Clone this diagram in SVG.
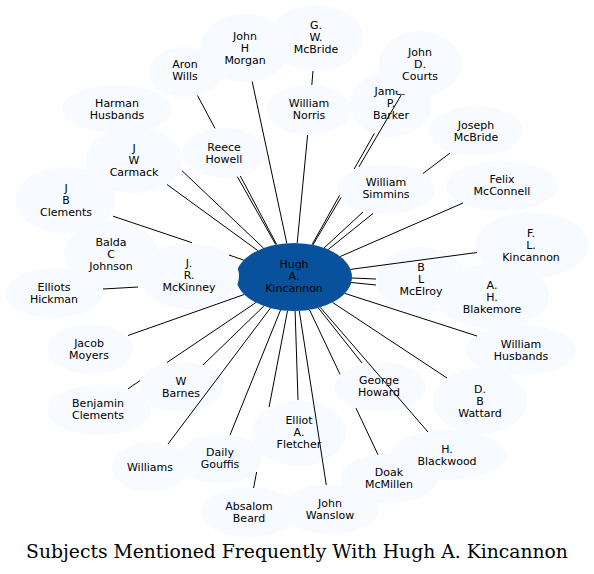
<svg xmlns="http://www.w3.org/2000/svg" width="594" height="574" viewBox="0 0 594 574">
<style>
.n ellipse{fill:#f7fbff;stroke:none}
.hub ellipse{fill:#08519c;stroke:none}
text{font-family:"DejaVu Sans","Liberation Sans",sans-serif;font-size:11px;fill:#000;text-anchor:middle}
.title{font-family:"DejaVu Serif","Liberation Serif",serif;font-size:18.75px}
#edges path{stroke:#000;stroke-width:1;fill:none}
</style>
<rect width="594" height="574" fill="#fff"/>
<g id="nodes">
<g id="hub" class="hub"><ellipse cx="294" cy="277" rx="58" ry="34"/><text x="294" y="268">Hugh</text><text x="294" y="280">A.</text><text x="294" y="292">Kincannon</text></g>
<g id="n-gwmcbride" class="n"><ellipse cx="316" cy="38" rx="47" ry="33"/><text x="316" y="29">G.</text><text x="316" y="41">W.</text><text x="316" y="53">McBride</text></g>
<g id="n-jhmorgan" class="n"><ellipse cx="245" cy="48" rx="45" ry="34"/><text x="245" y="40">John</text><text x="245" y="52">H</text><text x="245" y="64">Morgan</text></g>
<g id="n-aronwills" class="n"><ellipse cx="185" cy="72" rx="37" ry="25"/><text x="185" y="68">Aron</text><text x="185" y="80">Wills</text></g>
<g id="n-harmanhusbands" class="n"><ellipse cx="117" cy="109" rx="55" ry="24"/><text x="117" y="107">Harman</text><text x="117" y="119">Husbands</text></g>
<g id="n-jwcarmack" class="n"><ellipse cx="134" cy="160" rx="48" ry="33"/><text x="134" y="152">J</text><text x="134" y="164">W</text><text x="134" y="176">Carmack</text></g>
<g id="n-reecehowell" class="n"><ellipse cx="224" cy="153" rx="42" ry="25"/><text x="224" y="151">Reece</text><text x="224" y="163">Howell</text></g>
<g id="n-jbclements" class="n"><ellipse cx="65" cy="200" rx="50" ry="33"/><text x="66" y="192">J</text><text x="66" y="204">B</text><text x="66" y="216">Clements</text></g>
<g id="n-baldacjohnson" class="n"><ellipse cx="111" cy="254" rx="47" ry="33"/><text x="111" y="246">Balda</text><text x="111" y="258">C</text><text x="111" y="270">Johnson</text></g>
<g id="n-elliotshickman" class="n"><ellipse cx="54" cy="293" rx="49" ry="25"/><text x="54" y="291">Elliots</text><text x="54" y="303">Hickman</text></g>
<g id="n-jrmckinney" class="n"><ellipse cx="189" cy="276" rx="50" ry="33"/><text x="189" y="267">J.</text><text x="189" y="279">R.</text><text x="189" y="291">McKinney</text></g>
<g id="n-jacobmoyers" class="n"><ellipse cx="90" cy="349" rx="43" ry="25"/><text x="89" y="347">Jacob</text><text x="89" y="359">Moyers</text></g>
<g id="n-wbarnes" class="n"><ellipse cx="181" cy="387" rx="42" ry="25"/><text x="181" y="385">W</text><text x="181" y="397">Barnes</text></g>
<g id="n-benjaminclements" class="n"><ellipse cx="99" cy="410" rx="52" ry="25"/><text x="98" y="407">Benjamin</text><text x="98" y="419">Clements</text></g>
<g id="n-williams" class="n"><ellipse cx="150" cy="467" rx="38" ry="25"/><text x="150" y="471">Williams</text></g>
<g id="n-dailygouffis" class="n"><ellipse cx="220" cy="459" rx="42" ry="25"/><text x="220" y="456">Daily</text><text x="220" y="468">Gouffis</text></g>
<g id="n-absalombeard" class="n"><ellipse cx="249" cy="512" rx="48" ry="25"/><text x="249" y="510">Absalom</text><text x="249" y="522">Beard</text></g>
<g id="n-elliotafletcher" class="n"><ellipse cx="299" cy="433" rx="47" ry="33"/><text x="299" y="424">Elliot</text><text x="299" y="436">A.</text><text x="299" y="448">Fletcher</text></g>
<g id="n-johnwanslow" class="n"><ellipse cx="330" cy="509" rx="49" ry="25"/><text x="330" y="507">John</text><text x="330" y="519">Wanslow</text></g>
<g id="n-doakmcmillen" class="n"><ellipse cx="389" cy="478" rx="49" ry="25"/><text x="389" y="476">Doak</text><text x="389" y="488">McMillen</text></g>
<g id="n-hblackwood" class="n"><ellipse cx="448" cy="455" rx="58" ry="25"/><text x="447" y="453">H.</text><text x="447" y="465">Blackwood</text></g>
<g id="n-georgehoward" class="n"><ellipse cx="380" cy="387" rx="46" ry="25"/><text x="379" y="384">George</text><text x="379" y="396">Howard</text></g>
<g id="n-dbwattard" class="n"><ellipse cx="480" cy="401" rx="47" ry="33"/><text x="480" y="393">D.</text><text x="480" y="405">B</text><text x="480" y="417">Wattard</text></g>
<g id="n-williamhusbands" class="n"><ellipse cx="521" cy="350" rx="55" ry="25"/><text x="521" y="348">William</text><text x="521" y="360">Husbands</text></g>
<g id="n-ahblakemore" class="n"><ellipse cx="493" cy="296" rx="56" ry="33"/><text x="492" y="289">A.</text><text x="492" y="301">H.</text><text x="492" y="313">Blakemore</text></g>
<g id="n-flkincannon" class="n"><ellipse cx="532" cy="245" rx="57" ry="33"/><text x="531" y="237">F.</text><text x="531" y="249">L.</text><text x="531" y="261">Kincannon</text></g>
<g id="n-blmcelroy" class="n"><ellipse cx="421" cy="280" rx="45" ry="33"/><text x="421" y="271">B</text><text x="421" y="283">L</text><text x="421" y="295">McElroy</text></g>
<g id="n-felixmcconnell" class="n"><ellipse cx="502" cy="186" rx="56" ry="25"/><text x="502" y="183">Felix</text><text x="502" y="195">McConnell</text></g>
<g id="n-williamsimmins" class="n"><ellipse cx="386" cy="189" rx="49" ry="25"/><text x="386" y="186">William</text><text x="386" y="198">Simmins</text></g>
<g id="n-josephmcbride" class="n"><ellipse cx="476" cy="131" rx="47" ry="25"/><text x="476" y="129">Joseph</text><text x="476" y="141">McBride</text></g>
<g id="n-jamespbarker" class="n"><ellipse cx="391" cy="104" rx="41" ry="33"/><text x="391" y="95">James</text><text x="391" y="107">P.</text><text x="391" y="119">Barker</text></g>
<g id="n-johndcourts" class="n"><ellipse cx="420" cy="64" rx="41" ry="33"/><text x="420" y="56">John</text><text x="420" y="68">D.</text><text x="420" y="80">Courts</text></g>
<g id="n-williamnorris" class="n"><ellipse cx="309" cy="110" rx="42" ry="25"/><text x="309" y="107">William</text><text x="309" y="119">Norris</text></g>
</g>
<g id="edges">
<path d="M197.5,95.5 L215,128.4 M240.3,176 L276.7,244.5"/>
<path d="M237.4,176.7 L275.8,244.7"/>
<path d="M252.2,81.6 L286.8,243.3"/>
<path d="M313,71 L311.8,85"/>
<path d="M307.6,135 L297.2,243"/>
<path d="M401.5,94.5 L358.8,167 M341,197.5 L312.9,244.9"/>
<path d="M374.3,133.5 L354.2,169 M339.5,195.5 L312,244.7"/>
<path d="M363,212 L324,248"/>
<path d="M450,153 L423,173.5 M373,213.5 L328.2,249.5"/>
<path d="M463,203 L340.3,256.5"/>
<path d="M477,252.5 L350.5,269.4"/>
<path d="M352,278 L376,279"/>
<path d="M351.3,282.5 L376,285"/>
<path d="M344.8,293.4 L477,336"/>
<path d="M332.5,302.4 L447,378"/>
<path d="M320.2,307.3 L428,432"/>
<path d="M318.3,307.9 L362,363"/>
<path d="M309.5,309.8 L340,374.3 M356,408.2 L378,454.7"/>
<path d="M299.3,310.9 L326.3,485"/>
<path d="M295.1,311 L298,400"/>
<path d="M287.5,310.8 L269.1,407 M256.6,472 L253.6,488"/>
<path d="M280.5,310.1 L230,435"/>
<path d="M270.4,308.1 L168,444"/>
<path d="M263.9,306 L203,365"/>
<path d="M255.9,302.6 L167,362.5 M140,380.7 L128,388.8"/>
<path d="M244.2,294.5 L128,335.5"/>
<path d="M103,289 L138,287"/>
<path d="M113,216.2 L192,242.7 M229,255 L243.7,260.1"/>
<path d="M182,170.7 L263.5,248.1"/>
<path d="M167,184.5 L257.7,250.5"/>
</g>
<text class="title" x="297" y="558">Subjects Mentioned Frequently With Hugh A. Kincannon</text>
</svg>
